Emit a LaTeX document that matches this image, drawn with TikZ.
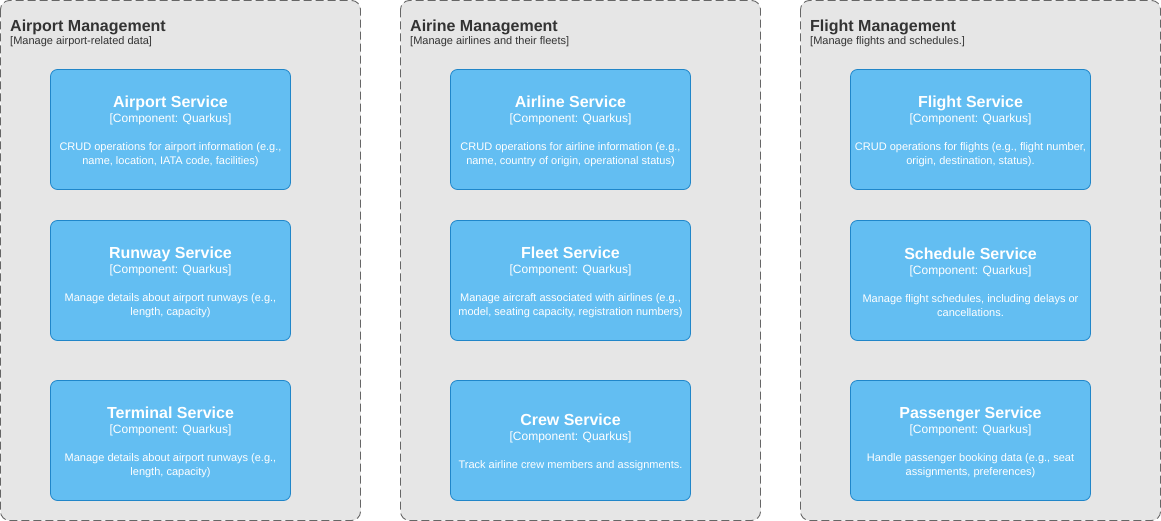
\documentclass[tikz,border=0pt]{standalone}
\usepackage{fontspec}
\setmainfont{Liberation Sans}
\definecolor{grpfill}{HTML}{E6E6E6}
\definecolor{grpline}{HTML}{666666}
\definecolor{grptext}{HTML}{333333}
\definecolor{svcfill}{HTML}{63BEF2}
\definecolor{svcline}{HTML}{2086C9}
\tikzset{
  grp/.style={draw=grpline, fill=grpfill, dash pattern=on 8pt off 4pt, rounded corners=9pt, line width=0.9pt},
  grptitle/.style={anchor=base west, inner sep=0pt, text=grptext, font=\fontsize{16}{18}\selectfont\bfseries},
  grpsub/.style={anchor=base west, inner sep=0pt, text=grptext, font=\fontsize{11}{13}\selectfont},
  svc/.style={draw=svcline, fill=svcfill, rounded corners=7pt, minimum width=240pt, minimum height=120pt, inner sep=0pt, line width=0.8pt},
  svctext/.style={text=white, align=center, inner sep=0pt, yshift=-1.8pt, font=\fontsize{11}{14}\selectfont},
}
\newcommand{\svct}[1]{{\fontsize{16}{18}\selectfont\bfseries #1}\\[1pt]{\fontsize{12}{14}\selectfont [Component: Quarkus]}\\[14pt]}
\begin{document}
\begin{tikzpicture}[x=1pt,y=-1pt]
\useasboundingbox (0,0) rectangle (1161,521);
% groups
\draw[grp] (0.5,0.5) rectangle (360.5,520.5);
\draw[grp] (400.5,0.5) rectangle (760.5,520.5);
\draw[grp] (800.5,0.5) rectangle (1160.5,520.5);
\node[grptitle] (g1t) at (10,31.5) {Airport Management};
\node[grpsub] (g1s) at (10,45) {[Manage airport-related data]};
\node[grptitle] (g2t) at (410,31.5) {Airine Management};
\node[grpsub] (g2s) at (410,45) {[Manage airlines and their fleets]};
\node[grptitle] (g3t) at (810,31.5) {Flight Management};
\node[grpsub] (g3s) at (810,45) {[Manage flights and schedules.]};
% services column 1
\node[svc] (airport) at (170.5,129.5) {};
\node[svctext] (airportT) at (airport.center) {\svct{Airport Service}CRUD operations for airport information (e.g.,\\name, location, IATA code, facilities)};
\node[svc] (runway) at (170.5,280.5) {};
\node[svctext] (runwayT) at (runway.center) {\svct{Runway Service}Manage details about airport runways (e.g.,\\length, capacity)};
\node[svc] (terminal) at (170.5,440.5) {};
\node[svctext] (terminalT) at (terminal.center) {\svct{Terminal Service}Manage details about airport runways (e.g.,\\length, capacity)};
% column 2
\node[svc] (airline) at (570.5,129.5) {};
\node[svctext] (airlineT) at (airline.center) {\svct{Airline Service}CRUD operations for airline information (e.g.,\\name, country of origin, operational status)};
\node[svc] (fleet) at (570.5,280.5) {};
\node[svctext] (fleetT) at (fleet.center) {\svct{Fleet Service}Manage aircraft associated with airlines (e.g.,\\model, seating capacity, registration numbers)};
\node[svc] (crew) at (570.5,440.5) {};
\node[svctext] (crewT) at (crew.center) {\svct{Crew Service}Track airline crew members and assignments.};
% column 3
\node[svc] (flight) at (970.5,129.5) {};
\node[svctext] (flightT) at (flight.center) {\svct{Flight Service}CRUD operations for flights (e.g., flight number,\\origin, destination, status).};
\node[svc] (schedule) at (970.5,280.5) {};
\node[svctext] (scheduleT) at (schedule.center) {\svct{Schedule Service}Manage flight schedules, including delays or\\cancellations.};
\node[svc] (passenger) at (970.5,440.5) {};
\node[svctext] (passengerT) at (passenger.center) {\svct{Passenger Service}Handle passenger booking data (e.g., seat\\assignments, preferences)};
\end{tikzpicture}
\end{document}
